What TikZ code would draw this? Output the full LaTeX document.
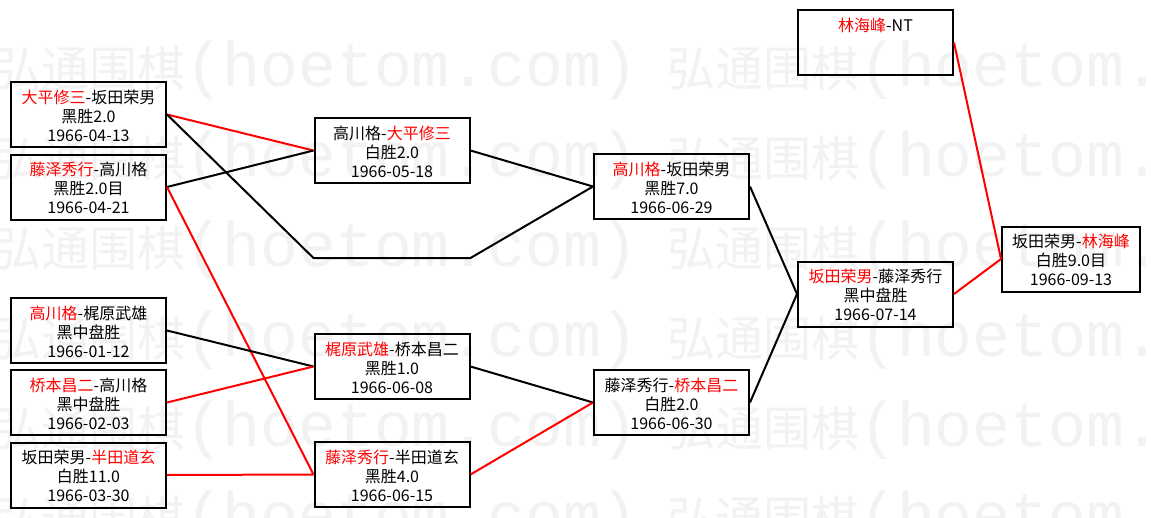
\documentclass[tikz,border=0pt]{standalone}
\usepackage{fontspec}
\setmainfont{Noto Sans CJK SC}
\newfontfamily\wmmono{Liberation Mono}
\newcommand{\rd}[1]{\textcolor{red}{#1}}
\newcommand{\st}{\rule[-2pt]{0pt}{19pt}}
\newcommand{\tri}[3]{\st#1\\\st#2\\\st#3}
\newcommand{\wmtext}{\fontsize{48}{48}\selectfont 弘通围棋{\wmmono\fontsize{63}{63}\selectfont(hoetom.com)}}
\begin{document}
\begin{tikzpicture}[x=1pt,y=-1pt,
  box/.style={draw=black,line width=2pt,minimum width=155pt,minimum height=65pt,
              inner sep=0pt,align=center,font=\fontsize{16}{19}\selectfont},
  wl/.style={line width=2pt,black},
  rl/.style={line width=2pt,red},
  wm/.style={text=black!5,inner sep=0pt,anchor=base west}]
\useasboundingbox (0,0) rectangle (1151,517);
\fill[white] (0,0) rectangle (1151,517);
% watermark
\foreach \r in {0,...,5}{
  \node[wm] (wma\r) at (-7,86+90*\r) {\wmtext};
  \node[wm] (wmb\r) at (667,86+90*\r) {\wmtext};
}
% round 1
\node[box] (a1) at (88.5,114.5) {\tri{\rd{大平修三}-坂田荣男}{黑胜2.0}{1966-04-13}};
\node[box] (a2) at (88.5,187) {\tri{\rd{藤泽秀行}-高川格}{黑胜2.0目}{1966-04-21}};
\node[box] (a3) at (88.5,330.5) {\tri{\rd{高川格}-梶原武雄}{黑中盘胜}{1966-01-12}};
\node[box] (a4) at (88.5,402.5) {\tri{\rd{桥本昌二}-高川格}{黑中盘胜}{1966-02-03}};
\node[box] (a5) at (88.5,475) {\tri{坂田荣男-\rd{半田道玄}}{白胜11.0}{1966-03-30}};
% round 2
\node[box] (b1) at (392,150.5) {\tri{高川格-\rd{大平修三}}{白胜2.0}{1966-05-18}};
\node[box,draw=none] (b0) at (392,258) {};
\node[box] (b2) at (392,366.5) {\tri{\rd{梶原武雄}-桥本昌二}{黑胜1.0}{1966-06-08}};
\node[box] (b3) at (392,474.5) {\tri{\rd{藤泽秀行}-半田道玄}{黑胜4.0}{1966-06-15}};
% round 3
\node[box] (c1) at (671.5,186.5) {\tri{\rd{高川格}-坂田荣男}{黑胜7.0}{1966-06-29}};
\node[box] (c2) at (671.5,402.5) {\tri{藤泽秀行-\rd{桥本昌二}}{白胜2.0}{1966-06-30}};
% round 4
\node[box] (d1) at (875.5,294) {\tri{\rd{坂田荣男}-藤泽秀行}{黑中盘胜}{1966-07-14}};
\node[box] (f) at (875.5,42.5) {\tri{\rd{林海峰}-NT}{}{}};
% final
\node[box,minimum width=138pt] (e) at (1071,259) {\tri{坂田荣男-\rd{林海峰}}{白胜9.0目}{1966-09-13}};
% connectors
\draw[rl] (a1.east) -- (b1.west);
\draw[wl] (a1.east) -- (b0.west) -- (b0.east) -- (c1.west);
\draw[wl] (a2.east) -- (b1.west);
\draw[rl] (a2.east) -- (b3.west);
\draw[wl] (a3.east) -- (b2.west);
\draw[rl] (a4.east) -- (b2.west);
\draw[rl] (a5.east) -- (b3.west);
\draw[wl] (b1.east) -- (c1.west);
\draw[wl] (b2.east) -- (c2.west);
\draw[rl] (b3.east) -- (c2.west);
\draw[wl] (c1.east) -- (d1.west);
\draw[wl] (c2.east) -- (d1.west);
\draw[rl] (d1.east) -- (e.west);
\draw[rl] (f.east) -- (e.west);
\end{tikzpicture}
\end{document}
